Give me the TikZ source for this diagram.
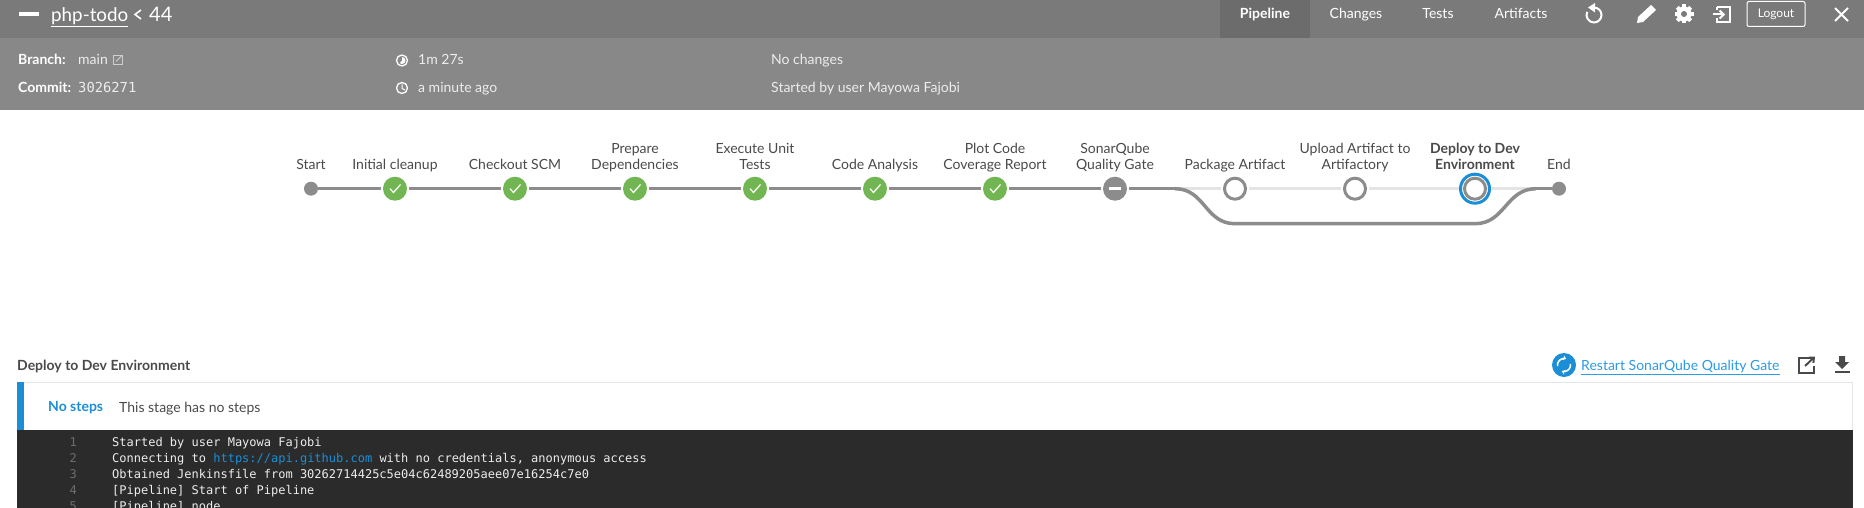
\documentclass[tikz,border=0pt]{standalone}
\usepackage{fontspec}
\setmainfont{Lato}
\setmonofont{DejaVu Sans Mono}
\usetikzlibrary{arrows.meta, positioning, calc}
\definecolor{cbar}{HTML}{7A7A7A}
\definecolor{cinfo}{HTML}{888888}
\definecolor{ctab}{HTML}{6C6C6C}
\definecolor{cgreen}{HTML}{72B653}
\definecolor{cnode}{HTML}{8C8C8C}
\definecolor{clight}{HTML}{E4E4E4}
\definecolor{cblue}{HTML}{1B8ED6}
\definecolor{clink}{HTML}{2E9BE6}
\definecolor{ctext}{HTML}{4A4A4A}
\definecolor{cdark}{HTML}{2B2B2B}
\definecolor{cborder}{HTML}{E1E7EB}
\definecolor{cnum}{HTML}{6E6E6E}
\definecolor{cvalue}{HTML}{EDEDED}
\tikzset{
  stage/.style={font=\fontsize{14}{16}\selectfont, text=ctext, anchor=base, align=center, inner sep=0pt},
  okdot/.style={circle, fill=cgreen, minimum size=24pt, inner sep=0pt, outer sep=2pt},
  skipdot/.style={circle, fill=cnode, minimum size=24pt, inner sep=0pt, outer sep=2pt},
  opendot/.style={circle, draw=cnode, line width=3pt, fill=white, minimum size=21pt, inner sep=0pt, outer sep=3.5pt},
  enddot/.style={circle, fill=cnode, minimum size=14pt, inner sep=0pt, outer sep=0pt},
  donewire/.style={cnode, line width=3.5pt},
  todowire/.style={clight, line width=3.5pt},
  barlabel/.style={font=\fontsize{14}{16}\selectfont, text=white, anchor=base, inner sep=0pt},
  infokey/.style={font=\fontsize{14}{16}\selectfont, text=white, anchor=base west, inner sep=0pt},
  infoval/.style={font=\fontsize{14}{16}\selectfont, text=cvalue, anchor=base west, inner sep=0pt},
  logline/.style={font=\ttfamily\fontsize{12}{14}\selectfont, text=cvalue, anchor=base west, inner sep=0pt},
  lognum/.style={font=\ttfamily\fontsize{12}{14}\selectfont, text=cnum, anchor=base east, inner sep=0pt},
  icon/.style={white, line width=2pt}
}

\begin{document}
\begin{tikzpicture}[x=1pt, y=-1pt]
  \useasboundingbox (0,0) rectangle (1864,508);
  \fill[white] (0,0) rectangle (1864,508);

  % header bars
  \fill[cbar] (0,0) rectangle (1864,38);
  \fill[cinfo] (0,38) rectangle (1864,110);
  \fill[ctab] (1220,0) rectangle (1310,38);

  \fill[white] (19,12.5) rectangle (39,16);
  \node[font=\fontsize{18.8}{22}\selectfont, text=white, anchor=base west, inner sep=0pt] (title) at (51,22) {\underline{php-todo}};
  \draw[white, line width=1.6pt] (141,10) -- (135,14.5) -- (141,19);
  \node[font=\fontsize{20}{22}\selectfont, text=white, anchor=base west, inner sep=0pt] (runno) at (149,22) {44};

  % tabs
  \foreach \x/\nm/\lbl in {1356/tabchanges/Changes, 1438/tabtests/Tests, 1521/tabartifacts/Artifacts}{
    \node[barlabel] (\nm) at (\x,19) {\lbl};
  }
  \node[barlabel, font=\bfseries\fontsize{14}{16}\selectfont] (tabpipeline) at (1265,19) {Pipeline};
  \node[draw=white, rounded corners=2pt, line width=1pt, minimum width=58pt, minimum height=25pt, inner sep=0pt, text=white, font=\fontsize{12}{14}\selectfont] (logout) at (1776,14) {Logout};

  % toolbar icons
  \draw[icon] (1594,7.5) arc[start angle=-90, end angle=205, radius=7.5];
  \fill[white] (1595,3) -- (1595,12.5) -- (1588,7.5) -- cycle;
  \fill[white] (1637,23) -- (1638,17) -- (1651,5) -- (1656,10) -- (1643,22) -- cycle;
  \fill[white] (1684,14) circle (7.5);
  \foreach \a in {0,45,...,315}{
    \fill[white, rotate around={\a:(1684,14)}] (1682,4.5) rectangle (1686,9);
  }
  \fill[cbar] (1684,14) circle (3);
  \draw[icon] (1717,7) -- (1730,7) -- (1730,22) -- (1717,22) -- (1717,18);
  \draw[icon] (1717,7) -- (1717,10);
  \draw[icon, -{Straight Barb[length=4pt,width=8pt]}] (1713,14.5) -- (1725,14.5);
  \draw[white, line width=1.8pt] (1835,8) -- (1848,21) (1848,8) -- (1835,21);

  % info rows
  \node[infokey, font=\bfseries\fontsize{14}{16}\selectfont] (branchkey) at (18,65) {Branch:};
  \node[infoval] (branchval) at (78,65) {main};
  \draw[cvalue!70!cinfo, line width=0.8pt] (113,55.5) rectangle (122,64.5);
  \draw[cvalue!70!cinfo, line width=0.8pt] (116,61.5) -- (122,55.5);
  \node[infokey, font=\bfseries\fontsize{14}{16}\selectfont] (commitkey) at (18,93) {Commit:};
  \node[infoval, font=\ttfamily\fontsize{13.8}{16}\selectfont] (commitval) at (78,93) {3026271};
  \draw[white, line width=1.3pt] (402,60.5) circle (5.5);
  \fill[white] (402,60.5) -- (402,57) arc[start angle=-90, end angle=130, radius=3.5] -- cycle;
  \node[infoval] (durationval) at (418,65) {1m 27s};
  \draw[white, line width=1.3pt] (402,88) circle (5.5);
  \draw[white, line width=1pt] (402,84.5) -- (402,88.5) -- (405,90);
  \node[infoval] (agoval) at (418,93) {a minute ago};
  \node[infoval] (changesval) at (771,65) {No changes};
  \node[infoval] (causeval) at (771,93) {Started by user Mayowa Fajobi};

  % pipeline labels
  \foreach \x/\nm/\lbl in {311/lblstart/Start, 395/lblcleanup/Initial cleanup, 515/lblcheckout/Checkout SCM,
      635/lblprepare/{Prepare\\Dependencies}, 755/lblunit/{Execute Unit\\Tests}, 875/lblanalysis/Code Analysis,
      995/lblplot/{Plot Code\\Coverage Report}, 1115/lblsonar/{SonarQube\\Quality Gate}, 1235/lblpackage/Package Artifact,
      1355/lblupload/{Upload Artifact to\\Artifactory}, 1559/lblend/End}{
    \node[stage] (\nm) at (\x,169) {\lbl};
  }
  \node[stage, font=\bfseries\fontsize{14}{16}\selectfont] (lbldeploy) at (1475,169) {Deploy to Dev\\Environment};

  % pipeline nodes
  \node[enddot] (start) at (311,188.7) {};
  \foreach \x/\nm in {395/cleanup, 515/checkout, 635/prepare, 755/unit, 875/analysis, 995/plot}{
    \node[okdot] (\nm) at (\x,188.7) {};
    \draw[white, line width=1.2pt] (\x-5,188.7) -- (\x-1.5,192.5) -- (\x+5.5,184.5);
  }
  \node[skipdot] (sonar) at (1115,188.7) {};
  \fill[white] (1109,187.2) rectangle (1121,190.2);
  \node[opendot] (package) at (1235,188.7) {};
  \node[opendot] (upload) at (1355,188.7) {};
  \node[opendot] (deploy) at (1475,188.7) {};
  \node[circle, draw=cblue, line width=3pt, minimum size=29pt, inner sep=0pt] (deployring) at (deploy) {};
  \node[enddot] (end) at (1559,188.7) {};
  \coordinate (forkin) at (1175,188.7);
  \coordinate (forkout) at (1536,188.7);
  \coordinate (lowin) at (1235,223.7);
  \coordinate (lowout) at (1475,223.7);

  % pipeline wires
  \draw[todowire] (forkin) -- (package);
  \draw[todowire] (package) -- (upload);
  \draw[todowire] (upload) -- (deployring);
  \draw[todowire] (deployring) -- (forkout);
  \foreach \a/\b in {start/cleanup, cleanup/checkout, checkout/prepare, prepare/unit, unit/analysis, analysis/plot, plot/sonar, sonar/forkin, forkout/end}{
    \draw[donewire] (\a) -- (\b);
  }
  \draw[donewire] (forkin) .. controls (1205,188.7) and (1205,223.7) .. (lowin) -- (lowout) .. controls (1505,223.7) and (1506,188.7) .. (forkout);

  % step panel
  \node[font=\bfseries\fontsize{14}{16}\selectfont, text=ctext, anchor=base west, inner sep=0pt] (steptitle) at (17,370) {Deploy to Dev Environment};
  \fill[cblue] (1564,365) circle (12);
  \draw[white, line width=1.5pt, -{Stealth[length=3.5pt,width=5pt]}] (1557.6,366.1) arc[start angle=170, end angle=290, radius=6.5];
  \draw[white, line width=1.5pt, -{Stealth[length=3.5pt,width=5pt]}] (1570.4,363.9) arc[start angle=-10, end angle=110, radius=6.5];
  \node[font=\fontsize{14}{16}\selectfont, text=clink, anchor=base west, inner sep=0pt] (restart) at (1581,370) {\underline{Restart SonarQube Quality Gate}};
  \draw[ctext, line width=2pt] (1813,358) -- (1799,358) -- (1799,372.5) -- (1814,372.5) -- (1814,366);
  \draw[ctext, line width=2pt, -{Straight Barb[length=4pt,width=7pt]}] (1805,366) -- (1815,356.5);
  \fill[ctext] (1839,356) rectangle (1845,362) (1835,362) -- (1849,362) -- (1842,369) -- cycle;
  \fill[ctext] (1834.5,371) rectangle (1849.5,373);

  \draw[cborder, fill=white] (17,382) rectangle (1852.5,431);
  \fill[cblue] (17,382) rectangle (24,430);
  \node[font=\bfseries\fontsize{14}{16}\selectfont, text=cblue, anchor=base west, inner sep=0pt] (nostepkey) at (48,411) {No steps};
  \node[font=\fontsize{14}{16}\selectfont, text=ctext, anchor=base west, inner sep=0pt] (nostepval) at (119,412) {This stage has no steps};

  % log
  \fill[cdark] (17,430) rectangle (1852.5,508);
  \foreach \y/\n in {446/1, 462/2, 478/3, 494/4, 510/5}{
    \node[lognum] (num\n) at (77,\y) {\n};
  }
  \node[logline] (line1) at (112,446) {Started by user Mayowa Fajobi};
  \node[logline] (line2) at (112,462) {Connecting to \textcolor{cblue}{https://api.github.com} with no credentials, anonymous access};
  \node[logline] (line3) at (112,478) {Obtained Jenkinsfile from 30262714425c5e04c62489205aee07e16254c7e0};
  \node[logline] (line4) at (112,494) {[Pipeline] Start of Pipeline};
  \node[logline] (line5) at (112,510) {[Pipeline] node};
\end{tikzpicture}
\end{document}
